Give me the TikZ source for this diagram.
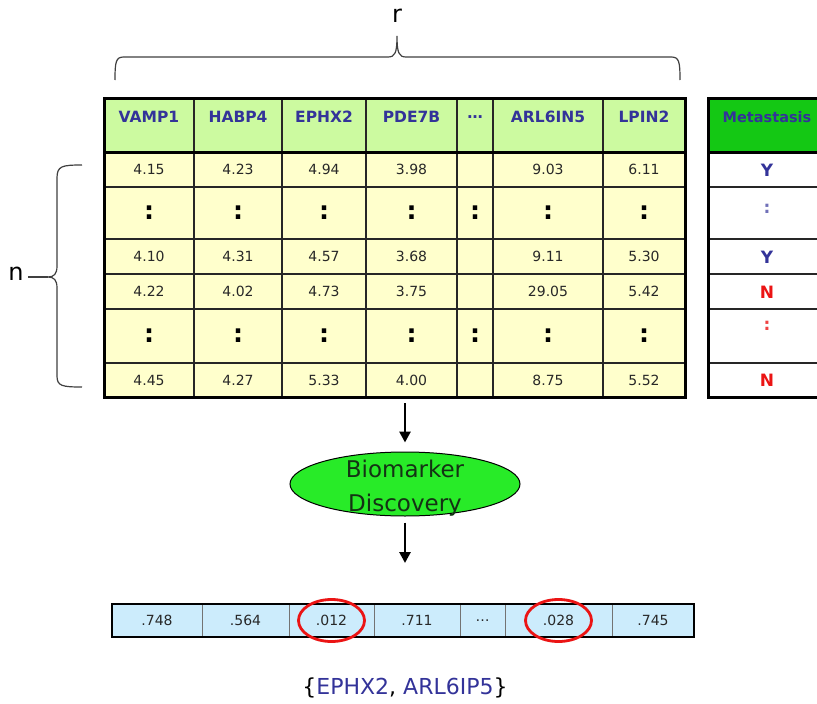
\documentclass[tikz,border=0pt]{standalone}
\usepackage{fontspec}
\setmainfont{DejaVu Sans}
\usetikzlibrary{shapes.geometric,arrows.meta,calc}
\definecolor{hdrgreen}{RGB}{204,250,160}
\definecolor{cellyel}{RGB}{255,255,204}
\definecolor{metagreen}{RGB}{20,200,20}
\definecolor{navy}{RGB}{51,51,153}
\definecolor{barblue}{RGB}{204,236,252}
\definecolor{ellgreen}{RGB}{40,235,40}
\definecolor{darktxt}{RGB}{40,40,40}
\definecolor{bdtxt}{RGB}{20,50,20}
\definecolor{redN}{RGB}{235,20,20}
\tikzset{
  hdr/.style={font=\bfseries\fontsize{15.5}{17}\selectfont, text=navy, inner sep=0pt},
  val/.style={font=\fontsize{14}{16}\selectfont, text=darktxt, inner sep=0pt},
  dots/.style={font=\bfseries\fontsize{25}{27}\selectfont, text=black, inner sep=0pt},
  thick line/.style={line width=3pt, draw=black},
  thin line/.style={line width=1.3pt, draw=black!85},
  bracestyle/.style={line width=1.2pt, draw=black!75},
  arr/.style={line width=2.8pt, -{Triangle[length=11pt,width=11pt]}},
  barval/.style={font=\fontsize{14}{16}\selectfont, text=darktxt, inner sep=0pt},
  redring/.style={ellipse, draw=redN, line width=2.8pt, minimum width=66pt, minimum height=42pt, inner sep=0pt},
  mval/.style={font=\bfseries\fontsize{17}{19}\selectfont, inner sep=0pt},
}
\begin{document}
\begin{tikzpicture}[x=1pt,y=-1pt]
\useasboundingbox (0,0) rectangle (817,704);
\clip (0,0) rectangle (817,704);
\fill[white] (0,0) rectangle (817,704);

% ---- main table
\fill[cellyel] (104,152) rectangle (685,397);
\fill[hdrgreen] (104,98) rectangle (685,152);
\foreach \y in {187,239,274,309,363} \draw[thin line] (104,\y) -- (685,\y);
\foreach \x in {194,282,366,457,493,603} \draw[thin line] (\x,98) -- (\x,397);
\draw[thick line] (104,152) -- (685,152);
\draw[thick line] (104,98) rectangle (685,397);

% header texts
\foreach \v [count=\i] in {VAMP1,HABP4,EPHX2,PDE7B,\ldots,ARL6IN5,LPIN2}{
  \pgfmathsetmacro\cx{{149,238,324,411.5,475,548,644}[\i-1]}
  \node[hdr] (h\i) at (\cx,117) {\v};
}
% value rows
\foreach \v [count=\i] in {4.15,4.23,4.94,3.98,{},9.03,6.11}{
  \pgfmathsetmacro\cx{{149,238,324,411.5,475,548,644}[\i-1]}
  \node[val] (ra\i) at (\cx,169.5) {\v};
}
\foreach \v [count=\i] in {4.10,4.31,4.57,3.68,{},9.11,5.30}{
  \pgfmathsetmacro\cx{{149,238,324,411.5,475,548,644}[\i-1]}
  \node[val] (rc\i) at (\cx,256.5) {\v};
}
\foreach \v [count=\i] in {4.22,4.02,4.73,3.75,{},29.05,5.42}{
  \pgfmathsetmacro\cx{{149,238,324,411.5,475,548,644}[\i-1]}
  \node[val] (rd\i) at (\cx,291.5) {\v};
}
\foreach \v [count=\i] in {4.45,4.27,5.33,4.00,{},8.75,5.52}{
  \pgfmathsetmacro\cx{{149,238,324,411.5,475,548,644}[\i-1]}
  \node[val] (rf\i) at (\cx,380) {\v};
}
\foreach \i in {1,...,7}{
  \pgfmathsetmacro\cx{{149,238,324,411.5,475,548,644}[\i-1]}
  \node[dots] (rb\i) at (\cx,213) {:};
  \node[dots] (re\i) at (\cx,336) {:};
}
\coordinate (tblbot) at (405,397);

% ---- metastasis column
\fill[white] (708,152) rectangle (830,397);
\fill[metagreen] (708,98) rectangle (830,152);
\foreach \y in {187,239,274,309,363} \draw[thin line] (708,\y) -- (830,\y);
\draw[thick line] (708,152) -- (830,152);
\draw[thick line] (708,98) rectangle (830,397);
\node[hdr, font=\bfseries\fontsize{14.5}{16}\selectfont, text=navy] (mh) at (767,117) {Metastasis};
\node[mval, text=navy] (m1) at (767,170) {Y};
\node[mval, text=navy!70] (m2) at (767,209) {:};
\node[mval, text=navy] (m3) at (767,257) {Y};
\node[mval, text=redN] (m4) at (767,292) {N};
\node[mval, text=redN!80] (m5) at (767,326) {:};
\node[mval, text=redN] (m6) at (767,380) {N};

% ---- braces
\draw[bracestyle] (115,80) .. controls (115,61) and (116,57) .. (124,57) -- (388,57)
  .. controls (395,57) and (397,53) .. (397,36)
  .. controls (397,53) and (399,57) .. (406,57) -- (671,57)
  .. controls (679,57) and (680,61) .. (680,80);
\node[font=\fontsize{24}{26}\selectfont, inner sep=0pt] (rlab) at (397,16) {r};

\coordinate (ltip) at (48,277);
\draw[bracestyle] (82,165) .. controls (62,165) and (57,166) .. (57,178) -- (57,266)
  .. controls (57,274) and (54,277) .. (ltip)
  .. controls (54,277) and (57,280) .. (57,288) -- (57,376)
  .. controls (57,386) and (62,387) .. (82,387);
\node[font=\fontsize{24}{26}\selectfont, inner sep=0pt] (nlab) at (16,274) {n};
\draw[bracestyle] (nlab.east |- ltip) ++(4,0) coordinate (nstart) (nstart) -- (ltip);

% ---- biomarker discovery
\node[ellipse, draw=black, line width=1pt, fill=ellgreen, minimum width=230pt, minimum height=64pt, inner sep=0pt] (bd) at (405,484) {};
\node[font=\fontsize{23}{34}\selectfont, text=bdtxt, align=center, inner sep=0pt] (bdtext) at ([yshift=-4pt]bd.center) {Biomarker\\Discovery};
\draw[arr, shorten <=6pt, shorten >=9pt] (tblbot) -- (bd.north);

% ---- result bar
\fill[barblue] (112,604) rectangle (694,637);
\foreach \x in {202,289,374,460,505,612} \draw[line width=1pt, draw=black!55] (\x,604) -- (\x,637);
\draw[line width=2.8pt] (112,604) rectangle (694,637);
\coordinate (bartop) at (405,604);
\foreach \v [count=\i] in {.748,.564,.012,.711,\ldots,.028,.745}{
  \pgfmathsetmacro\cx{{157,245.5,331.5,417,482.5,558.5,653}[\i-1]}
  \node[barval] (b\i) at (\cx,620.5) {\v};
}
\node[redring] (ring1) at (b3) {};
\node[redring] (ring2) at (b6) {};
\draw[arr, shorten <=6pt, shorten >=41pt] (bd.south) -- (bartop);

% ---- selected genes
\node[font=\fontsize{22}{24}\selectfont, inner sep=0pt] (genes) at (405,688)
  {\{\textcolor{navy}{EPHX2}, \textcolor{navy}{ARL6IP5}\}};
\end{tikzpicture}
\end{document}
